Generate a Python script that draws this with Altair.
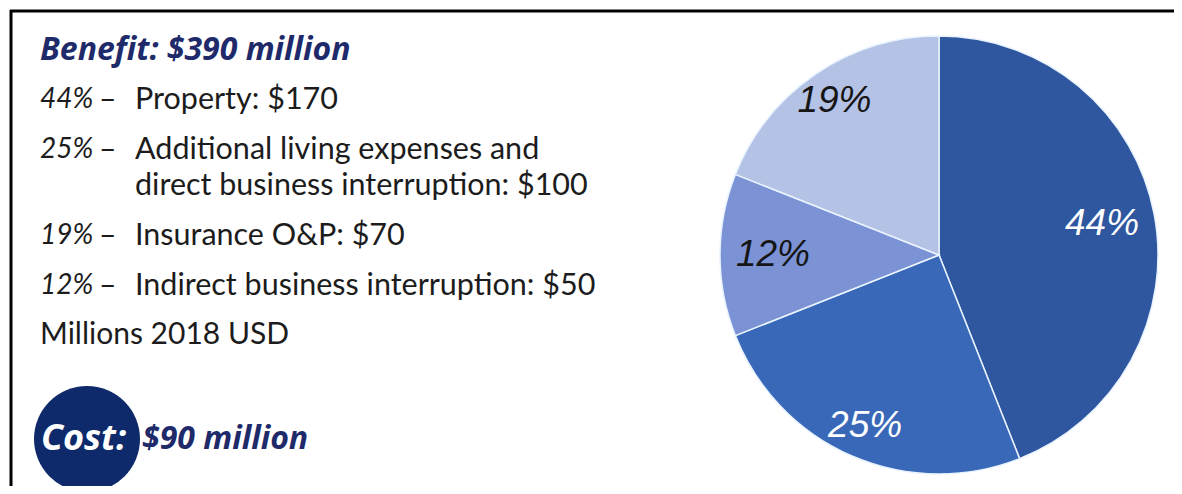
import altair as alt
import pandas as pd

# ---- data ----
categories = ["Property",
              "Additional living expenses and\ndirect business interruption",
              "Indirect business interruption",
              "Insurance O&P"]
shares = [44, 25, 12, 19]          # pie order, clockwise from 12 o'clock
values = [170, 100, 50, 70]        # millions 2018 USD
list_order = [0, 1, 3, 2]          # order of the text list
benefit_total = 390
cost_total = 90
unit_note = "Millions 2018 USD"
slice_colors = ["#2E579F", "#3A68B9", "#7B93D5", "#B4C2E5"]

pie_df = pd.DataFrame({
    "category": categories,
    "share": shares,
    "value": values,
    "order": list(range(len(shares))),
    "label": [f"{s}%" for s in shares],
})

# ---- layout (chart coords = page coords - 8) ----
W, H = 1166, 478
CX, CY, R = 929, 245, 219
NAVY = "#1E2A6A"
BODY = "#1C1C1C"
SANS = "Lato"
BOLD = "Open Sans"

arcs = alt.Chart(pie_df).mark_arc(outerRadius=R, stroke="#E8F3FF", strokeWidth=1.5).encode(
    theta=alt.Theta("share:Q", stack=True),
    order=alt.Order("order:Q"),
    color=alt.Color("category:N", scale=alt.Scale(domain=categories, range=slice_colors), legend=None),
    x=alt.value(CX), y=alt.value(CY),
)

pie_labels = alt.Chart(pie_df).mark_text(
    font="Liberation Sans", fontStyle="italic", fontSize=37, baseline="middle", align="center"
).encode(
    text="label:N",
    x=alt.X("px:Q", scale=None),
    y=alt.Y("py:Q", scale=None),
    color=alt.condition("datum.order < 2", alt.value("white"), alt.value("#151515")),
).transform_joinaggregate(
    total="sum(share)"
).transform_window(
    cum="sum(share)", sort=[alt.SortField("order", order="ascending")], frame=[None, 0]
).transform_calculate(
    mid="2 * PI * (datum.cum - datum.share / 2) / datum.total",
    lr="datum.order % 2 == 1 ? 186 : 166",
).transform_calculate(
    px=f"{CX} + datum.lr * sin(datum.mid)",
    py=f"{CY} - datum.lr * cos(datum.mid)",
)


def txt(s, x, y, color=BODY, style="normal", weight="normal", size=30, font=SANS):
    return alt.Chart(pd.DataFrame({"t": [s]})).mark_text(
        font=font, fontSize=size, fontStyle=style, fontWeight=weight,
        align="left", baseline="middle", color=color,
    ).encode(text="t:N", x=alt.value(x), y=alt.value(y))


layers = [arcs, pie_labels]

# heading
layers.append(txt(f"Benefit: ${benefit_total} million", 30, 40, color=NAVY, style="italic",
                  weight="bold", size=32, font=BOLD))

# list
y = 90
for i in list_order:
    parts = categories[i].split("\n")
    layers.append(txt(f"{shares[i]}%", 30, y, style="italic", size=28))
    layers.append(txt("\u2013", 89, y))
    lines = parts[:-1] + [f"{parts[-1]}: ${values[i]}"]
    for j, ln in enumerate(lines):
        if j > 0:
            y += 36
        layers.append(txt(ln, 125, y, size=30.5))
    y += 50

layers.append(txt(unit_note, 30, 325))

# cost badge
layers.append(alt.Chart(pd.DataFrame({"v": [cost_total]})).mark_circle(
    color="#0E2A6B", opacity=1, size=11236
).encode(x=alt.value(77), y=alt.value(429)))
layers.append(txt("Cost:", 31, 429, color="white", style="italic", weight="bold", size=36, font=BOLD))
layers.append(txt(f"${cost_total} million", 132, 429, color=NAVY, style="italic", weight="bold",
                  size=32, font=BOLD))

# frame lines (top and left)
layers.append(alt.Chart(pd.DataFrame({"v": [0]})).mark_rule(color="black", strokeWidth=3).encode(
    x=alt.value(0), x2=alt.value(W), y=alt.value(1)))
layers.append(alt.Chart(pd.DataFrame({"v": [0]})).mark_rule(color="black", strokeWidth=3).encode(
    x=alt.value(1), y=alt.value(0), y2=alt.value(H)))

chart = alt.layer(*layers).properties(
    width=W, height=H, padding=0,
    autosize=alt.AutoSizeParams(type="fit", contains="padding"),
    background="white",
).configure_view(strokeWidth=0)

chart.save("out.html", embed_options={"renderer": "svg", "actions": False})
